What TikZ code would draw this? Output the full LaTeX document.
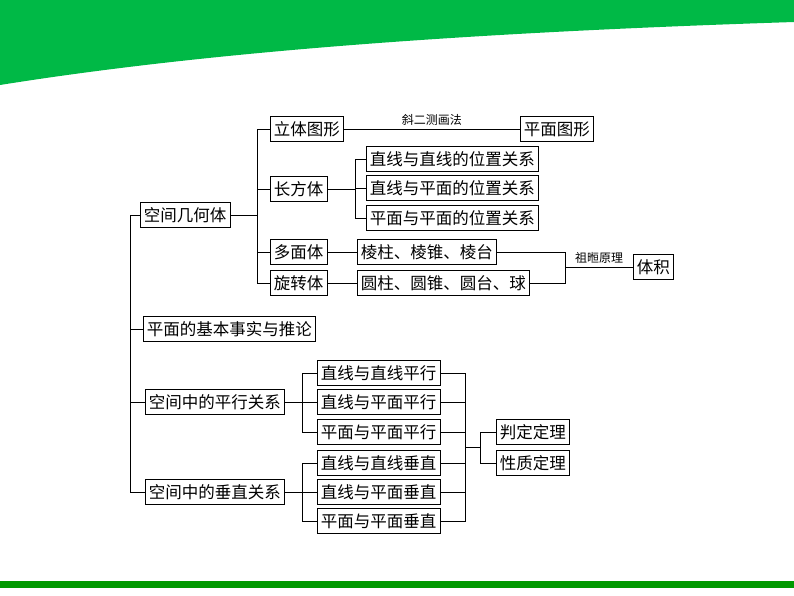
\documentclass[tikz,border=0pt]{standalone}
\usepackage{fontspec}
\setmainfont{Noto Sans CJK SC}
\usetikzlibrary{positioning}
\tikzset{
    box/.style={rectangle, draw, thick, anchor=west, inner xsep=3.5pt, inner ysep=1pt, minimum height=25pt, font=\fontsize{16.5pt}{18pt}\selectfont},
    link/.style={thick}
}
\begin{document}
\begin{tikzpicture}[x=1pt, y=-1pt]
    \useasboundingbox (0,0) rectangle (794,596);
    % frame decoration
    \fill[green!45!teal] (0,0) -- (794,0) -- (794,22) .. controls (550,30) and (250,45) .. (0,85) -- cycle;
    \fill[green!60!black] (0,581) rectangle (794,588);

    % level 1
    \node[box] (solid) at (140,215) {空间几何体};
    \node[box] (basic) at (143,329) {平面的基本事实与推论};
    \node[box] (para) at (145,402) {空间中的平行关系};
    \node[box] (perp) at (145,492) {空间中的垂直关系};

    % solids
    \node[box] (fig3d) at (270,129) {立体图形};
    \node[box] (fig2d) at (520,129) {平面图形};
    \node[box] (cuboid) at (270,189) {长方体};
    \node[box] (poly) at (270,252) {多面体};
    \node[box] (rot) at (270,283) {旋转体};
    \node[box] (ll) at (366,159) {直线与直线的位置关系};
    \node[box] (lp) at (366,188) {直线与平面的位置关系};
    \node[box] (pp) at (366,218) {平面与平面的位置关系};
    \node[box] (prism) at (357,252) {棱柱、棱锥、棱台};
    \node[box] (round) at (357,283) {圆柱、圆锥、圆台、球};
    \node[box] (vol) at (633,267) {体积};

    % parallel / perpendicular
    \node[box] (pll) at (317,373) {直线与直线平行};
    \node[box] (plp) at (317,402) {直线与平面平行};
    \node[box] (ppp) at (317,432) {平面与平面平行};
    \node[box] (qll) at (317,463) {直线与直线垂直};
    \node[box] (qlp) at (317,492) {直线与平面垂直};
    \node[box] (qpp) at (317,521) {平面与平面垂直};
    \node[box] (judge) at (496,432) {判定定理};
    \node[box] (prop) at (496,463) {性质定理};

    % trunk
    \draw[link] (solid.west) -| (130,492) -- (perp.west);
    \draw[link] (basic.west) -- (basic.west -| 130,0);
    \draw[link] (para.west) -- (para.west -| 130,0);

    % solids branches
    \draw[link] (solid.east) -- (257,215);
    \draw[link] (fig3d.west) -| (257,283) -- (rot.west);
    \draw[link] (cuboid.west) -- (cuboid.west -| 257,0);
    \draw[link] (poly.west) -- (poly.west -| 257,0);
    \draw[link] (fig3d.east) -- node[above, font=\fontsize{12pt}{14pt}\selectfont] {斜二测画法} (fig2d.west);
    \draw[link] (cuboid.east) -- (355,189);
    \draw[link] (ll.west) -| (355,218) -- (pp.west);
    \draw[link] (lp.west) -- (lp.west -| 355,0);
    \draw[link] (poly.east) -- (prism.west);
    \draw[link] (rot.east) -- (round.west);
    \draw[link] (prism.east) -| (565,283) -- (round.east);
    \draw[link] (565,267) -- node[above, font=\fontsize{12pt}{14pt}\selectfont, inner xsep=1pt] {祖暅原理} (vol.west);

    % relation branches
    \draw[link] (para.east) -- (302,402);
    \draw[link] (pll.west) -| (302,432) -- (ppp.west);
    \draw[link] (plp.west) -- (plp.west -| 302,0);
    \draw[link] (perp.east) -- (302,492);
    \draw[link] (qll.west) -| (302,521) -- (qpp.west);
    \draw[link] (qlp.west) -- (qlp.west -| 302,0);
    \draw[link] (pll.east) -| (465,521) -- (qpp.east);
    \foreach \n in {plp, ppp, qll, qlp}
        \draw[link] (\n.east) -- (\n.east -| 465,0);
    \draw[link] (465,447) -- (480,447);
    \draw[link] (judge.west) -| (480,463) -- (prop.west);
\end{tikzpicture}
\end{document}
